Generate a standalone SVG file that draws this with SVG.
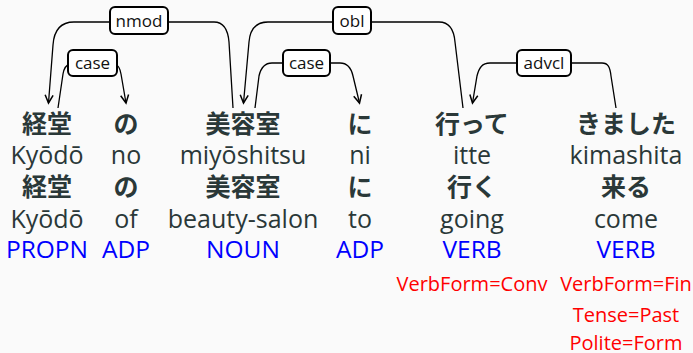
<svg xmlns="http://www.w3.org/2000/svg" width="693" height="353" viewBox="0 0 693 353">
<defs>
<marker id="arr" markerUnits="userSpaceOnUse" markerWidth="14" markerHeight="14" refX="0" refY="0" viewBox="-10 -7 12 14" orient="auto">
<path d="M -8,-4 L 0,0 L -8,4" fill="none" stroke="#000" stroke-width="1.5"/>
</marker>
<style>
.bg{fill:#fafafa}
.arc{fill:none;stroke:#000;stroke-width:1.3}
.lbl rect{fill:#fff;stroke:#000;stroke-width:2}
.lbl text{font-family:"Open Sans","Noto Sans",sans-serif;font-size:17px;fill:#111;text-anchor:middle}
.jp{font-family:"Noto Sans CJK JP",sans-serif;font-weight:bold;font-size:25px;fill:#2a3838;text-anchor:middle}
.lat{font-family:"Open Sans","Noto Sans",sans-serif;font-size:25px;fill:#2a3838;text-anchor:middle}
.pos{font-family:"Open Sans","Noto Sans",sans-serif;font-size:24.5px;fill:#0000ff;text-anchor:middle}
.feat{font-family:"Open Sans","Noto Sans",sans-serif;font-size:20px;fill:#ff0000;text-anchor:middle}
</style>
</defs>
<rect class="bg" x="0" y="0" width="693" height="353"/>
<g id="connectors">
<path class="arc" d="M 110,22 H 74 C 60,22 54,30 53,45 L 48.5,103" marker-end="url(#arr)"/>
<path class="arc" d="M 168,22 H 214 C 224,22 228,30 229,42 L 233,108"/>
<path class="arc" d="M 58,108 L 63,74 C 64,68 66,65 70,64"/>
<path class="arc" d="M 115,64 C 118,65 120,68 121,74 L 126,103" marker-end="url(#arr)"/>
<path class="arc" d="M 333,22 H 268 C 255,22 250,30 249,42 L 243.5,103" marker-end="url(#arr)"/>
<path class="arc" d="M 371,22 H 439 C 450,22 454,30 455,42 L 463,108"/>
<path class="arc" d="M 255,108 L 259,76 C 261,67 265,63 272,63 H 285"/>
<path class="arc" d="M 328,63 H 340 C 347,63 351,67 353,76 L 359.5,103" marker-end="url(#arr)"/>
<path class="arc" d="M 518,63 H 490 C 482,63 479,68 477,76 L 472.5,103" marker-end="url(#arr)"/>
<path class="arc" d="M 570,63 H 602 C 608,63 610,67 611,76 L 616,108"/>
</g>
<g id="lbl-nmod" class="lbl"><rect x="110" y="7" width="58" height="27" rx="5"/><text x="139" y="26.5">nmod</text></g>
<g id="lbl-case1" class="lbl"><rect x="68" y="50" width="49" height="26" rx="5"/><text x="92.5" y="69">case</text></g>
<g id="lbl-obl" class="lbl"><rect x="333" y="7" width="38" height="27" rx="5"/><text x="352" y="26.5">obl</text></g>
<g id="lbl-case2" class="lbl"><rect x="283" y="50" width="47" height="26" rx="5"/><text x="306.5" y="69">case</text></g>
<g id="lbl-advcl" class="lbl"><rect x="517" y="50" width="54" height="26" rx="5"/><text x="544" y="69">advcl</text></g>
<g id="w1">
<text class="jp" x="47" y="133">経堂</text>
<text class="lat" x="47" y="164">Kyōdō</text>
<text class="jp" x="47" y="196">経堂</text>
<text class="lat" x="47" y="228">Kyōdō</text>
<text class="pos" x="47" y="258">PROPN</text>
</g>
<g id="w2">
<text class="jp" x="126" y="133">の</text>
<text class="lat" x="126" y="164">no</text>
<text class="jp" x="126" y="196">の</text>
<text class="lat" x="126" y="228">of</text>
<text class="pos" x="126" y="258">ADP</text>
</g>
<g id="w3">
<text class="jp" x="243" y="133">美容室</text>
<text class="lat" x="243" y="164">miyōshitsu</text>
<text class="jp" x="243" y="196">美容室</text>
<text class="lat" x="243" y="228">beauty-salon</text>
<text class="pos" x="243" y="258">NOUN</text>
</g>
<g id="w4">
<text class="jp" x="360" y="133">に</text>
<text class="lat" x="360" y="164">ni</text>
<text class="jp" x="360" y="196">に</text>
<text class="lat" x="360" y="228">to</text>
<text class="pos" x="360" y="258">ADP</text>
</g>
<g id="w5">
<text class="jp" x="472" y="133">行って</text>
<text class="lat" x="472" y="164">itte</text>
<text class="jp" x="472" y="196">行く</text>
<text class="lat" x="472" y="228">going</text>
<text class="pos" x="472" y="258">VERB</text>
<text class="feat" x="472" y="291">VerbForm=Conv</text>
</g>
<g id="w6">
<text class="jp" x="626" y="133">きました</text>
<text class="lat" x="626" y="164">kimashita</text>
<text class="jp" x="626" y="196">来る</text>
<text class="lat" x="626" y="228">come</text>
<text class="pos" x="626" y="258">VERB</text>
<text class="feat" x="626" y="291">VerbForm=Fin</text>
<text class="feat" x="626" y="322">Tense=Past</text>
<text class="feat" x="626" y="350">Polite=Form</text>
</g>
</svg>
